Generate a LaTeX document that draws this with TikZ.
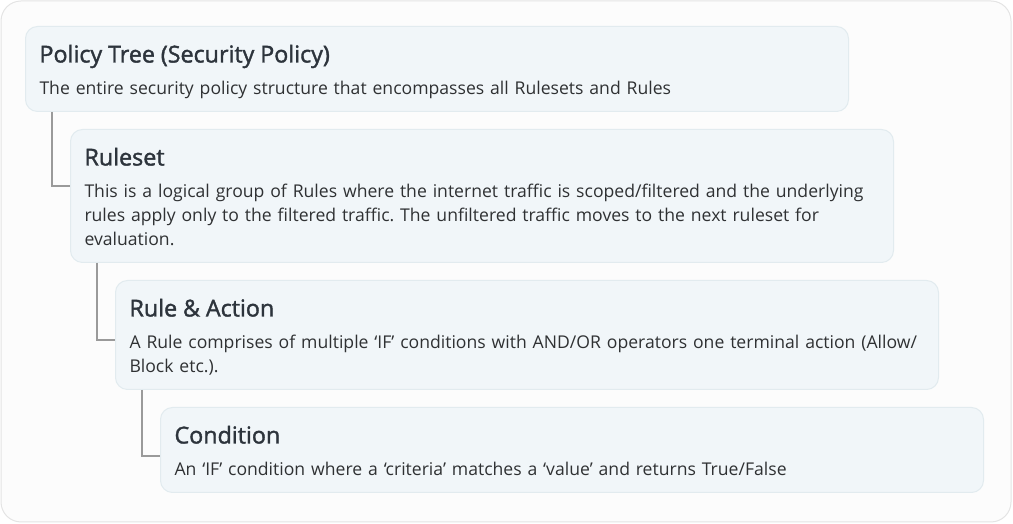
\documentclass[tikz,border=0pt]{standalone}
\usepackage{fontspec}
\setmainfont{Open Sans}
\newfontfamily\headfont{Open Sans}[UprightFeatures={FakeBold=1.6}]
\usetikzlibrary{positioning}
\definecolor{framefill}{HTML}{FCFCFC}
\definecolor{frameline}{HTML}{E4E4E4}
\definecolor{boxfill}{HTML}{F1F6F9}
\definecolor{boxline}{HTML}{E2EBEF}
\definecolor{headtext}{HTML}{2D343C}
\definecolor{bodytext}{HTML}{2F3133}
\definecolor{linkgray}{HTML}{9A9A9A}
\def\bw{795pt}
\frenchspacing
\newcommand\boxhead[1]{\rule{0pt}{26pt}{\headfont\fontsize{23.3}{24}\selectfont\color{headtext}#1}}
\newcommand\boxend{\rule[-7pt]{0pt}{7pt}}
\tikzset{
    frame/.style = {
        draw=frameline, fill=framefill, line width=1pt, rounded corners=20pt
    },
    levelbox/.style = {
        draw=boxline, fill=boxfill, line width=1pt, rounded corners=12pt,
        align=left, text width=\bw, inner xsep=14pt, inner ysep=10pt,
        text=bodytext, font=\fontsize{17.6}{24}\selectfont
    },
    link/.style = {
        draw=linkgray, line width=1.5pt
    }
}
\begin{document}
\begin{tikzpicture}
        \useasboundingbox (0,0) rectangle (1013pt,524pt);
        % Outer frame
        \path[frame] (1pt,2pt) rectangle (1011pt,523pt);
        % Place the levels
        \node[levelbox, anchor=north west] (tree) at (25pt,498pt)
            {\boxhead{Policy Tree (Security Policy)}\\[8pt]
             The entire security policy structure that encompasses all Rulesets and Rules\boxend};
        \node[levelbox, below right=17pt and 45pt of tree.south west] (ruleset)
            {\boxhead{Ruleset}\\[8pt]
             This is a logical group of Rules where the internet traffic is scoped/filtered and the underlying\\
             rules apply only to the filtered traffic. The unfiltered traffic moves to the next ruleset for\\
             evaluation.\boxend};
        \node[levelbox, below right=17pt and 45pt of ruleset.south west] (rule)
            {\boxhead{Rule \& Action}\\[8pt]
             A Rule comprises of multiple ‘IF’ conditions with AND/OR operators one terminal action (Allow/\\
             Block etc.).\boxend};
        \node[levelbox, below right=17pt and 45pt of rule.south west] (cond)
            {\boxhead{Condition}\\[8pt]
             An ‘IF’ condition where a ‘criteria’ matches a ‘value’ and returns True/False\boxend};
        % Tree connectors
        \draw[link] ([xshift=27pt]tree.south west) |- ([yshift=-57pt]ruleset.north west);
        \draw[link] ([xshift=27pt]ruleset.south west) |- ([yshift=-60pt]rule.north west);
        \draw[link] ([xshift=27pt]rule.south west) |- ([yshift=-49pt]cond.north west);
    \end{tikzpicture}
\end{document}
